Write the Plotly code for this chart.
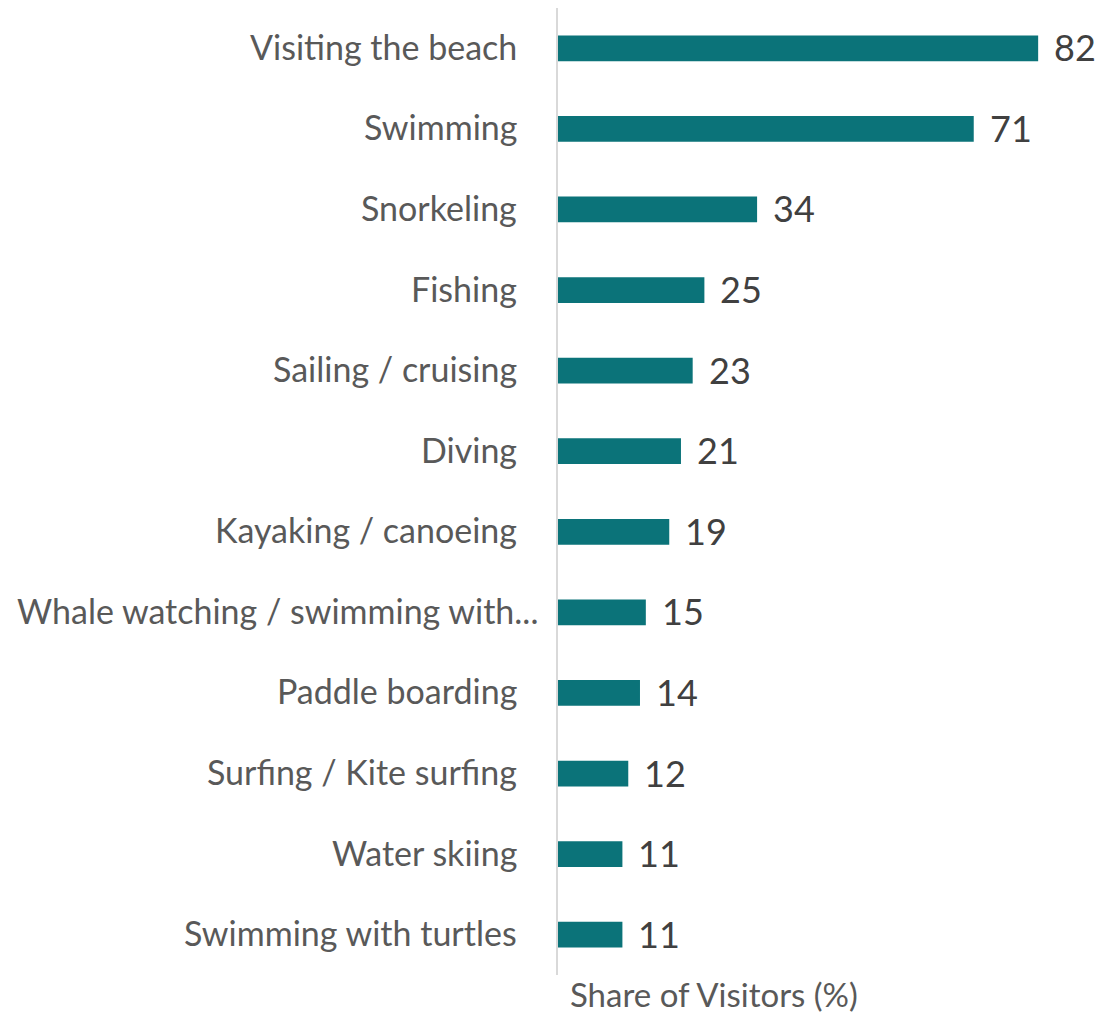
import plotly.graph_objects as go

# Activities, top to bottom, and share of visitors (%)
activities = [
    "Visiting the beach",
    "Swimming",
    "Snorkeling",
    "Fishing",
    "Sailing / cruising",
    "Diving",
    "Kayaking / canoeing",
    "Whale watching / swimming with...",
    "Paddle boarding",
    "Surfing / Kite surfing",
    "Water skiing",
    "Swimming with turtles",
]
shares = [82, 71, 34, 25, 23, 21, 19, 15, 14, 12, 11, 11]

BAR_COLOR = "#0B7379"
LABEL_COLOR = "#595959"
VALUE_COLOR = "#404040"
FONT = "Lato"

fig = go.Figure(
    go.Bar(
        x=shares,
        y=activities,
        orientation="h",
        marker=dict(color=BAR_COLOR, line=dict(width=0)),
        hoverinfo="x+y",
    )
)

annotations = []
# Category labels, right-aligned to the left of the axis line
for name in activities:
    shift = -18 if name.endswith("...") else -39
    annotations.append(dict(
        x=0, xref="paper", y=name, yref="y",
        xanchor="right", yanchor="middle", xshift=shift, yshift=2,
        text=name, showarrow=False,
        font=dict(family=FONT, size=34, color=LABEL_COLOR),
    ))
# Value labels past the end of each bar
for name, v in zip(activities, shares):
    annotations.append(dict(
        x=v, xref="x", y=name, yref="y",
        xanchor="left", yanchor="middle", xshift=14, yshift=1,
        text=str(v), showarrow=False,
        font=dict(family=FONT, size=36, color=VALUE_COLOR),
    ))
# Axis title
annotations.append(dict(
    x=0, xref="paper", y=0, yref="paper",
    xanchor="left", yanchor="middle", xshift=11, yshift=-19,
    text="Share of Visitors (%)", showarrow=False,
    borderpad=0,
    font=dict(family=FONT, size=33, color=LABEL_COLOR),
))

fig.update_layout(
    width=1100,
    height=1015,
    margin=dict(l=558, r=15, t=8, b=40),
    paper_bgcolor="white",
    plot_bgcolor="white",
    bargap=0.68,
    showlegend=False,
    annotations=annotations,
    xaxis=dict(
        range=[0, 90],
        showgrid=False,
        zeroline=False,
        showticklabels=False,
        showline=False,
        ticks="",
    ),
    yaxis=dict(
        categoryorder="array",
        categoryarray=activities[::-1],
        showticklabels=False,
        showgrid=False,
        zeroline=False,
        showline=True,
        linecolor="#D9D9D9",
        linewidth=2,
        ticks="",
    ),
)

fig.write_html("out.html")
